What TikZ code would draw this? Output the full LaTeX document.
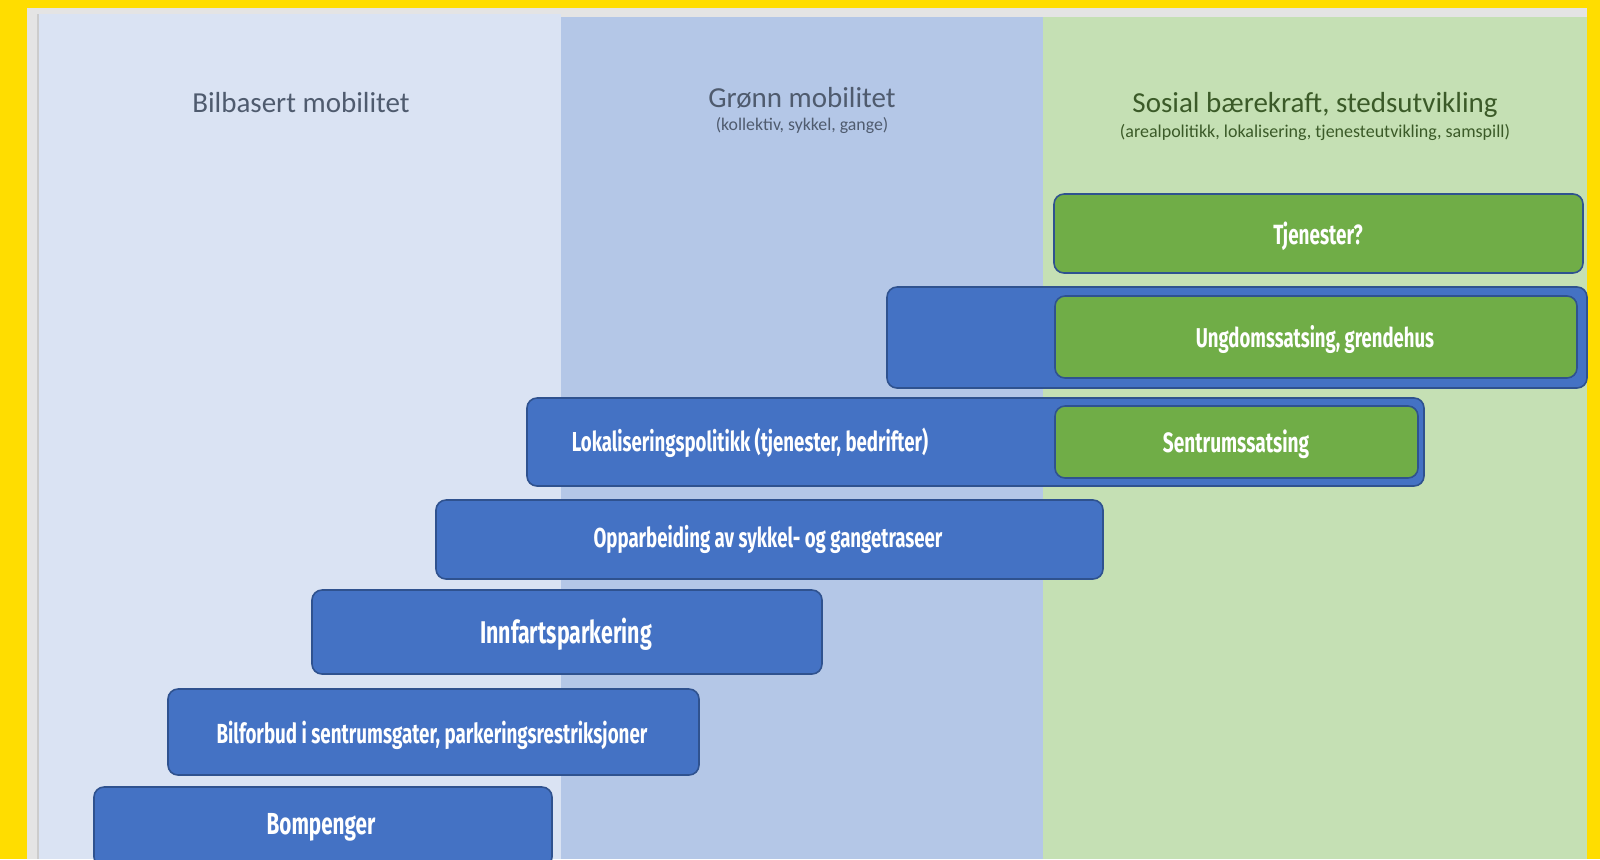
\documentclass[tikz,border=0pt]{standalone}
\usepackage{fontspec}
\newfontfamily\hfont{Carlito}
\newfontfamily\cfont[FakeStretch=0.68]{Fira Sans}
\definecolor{yel}{HTML}{FFDD00}
\definecolor{gband}{HTML}{E4E4E4}
\definecolor{pone}{HTML}{DAE3F3}
\definecolor{ptwo}{HTML}{B4C7E7}
\definecolor{pthree}{HTML}{C5E0B4}
\definecolor{bfill}{HTML}{4472C4}
\definecolor{bline}{HTML}{2F528F}
\definecolor{gfill}{HTML}{70AD47}
\definecolor{htxt}{HTML}{4F5B6E}
\definecolor{gtxt}{HTML}{3B5A28}
\tikzset{
  bluebox/.style={draw=bline, fill=bfill, line width=0.8pt, rounded corners=5pt, inner sep=0pt},
  greenbox/.style={draw=bline, fill=gfill, line width=0.8pt, rounded corners=5pt, inner sep=0pt},
  btxt/.style={text=white, inner sep=0pt},
  head/.style={text=htxt, inner sep=0pt},
}
\newcommand{\boxfnt}[1]{\cfont\bfseries\fontsize{#1}{#1}\selectfont}
\begin{document}
\begin{tikzpicture}[x=0.5pt, y=-0.5pt]
\useasboundingbox (0,0) rectangle (1600,859);
\clip (0,0) rectangle (1600,859);
% background
\fill[yel] (0,0) rectangle (1600,859);
\fill[gband] (27,8) rectangle (1587,859);
\fill[pone] (39,14) rectangle (561,859);
\fill[ptwo] (561,17) rectangle (1043,859);
\fill[pthree] (1043,17) rectangle (1587,859);
\draw[color=black!20, line width=1pt] (38,14) -- (38,859);
% headers
\node[head, font=\hfont\fontsize{14.5}{17}\selectfont] (h1) at (301,103) {Bilbasert mobilitet};
\node[head, font=\hfont\fontsize{14.5}{17}\selectfont] (h2) at (802,98) {Grønn mobilitet};
\node[head, font=\hfont\fontsize{8.9}{10}\selectfont] (h2s) at (802,126) {(kollektiv, sykkel, gange)};
\node[head, text=gtxt, font=\hfont\fontsize{14.5}{17}\selectfont] (h3) at (1315,105) {Sosial bærekraft, stedsutvikling};
\node[head, text=gtxt, font=\hfont\fontsize{9}{10}\selectfont] (h3s) at (1315,132) {(arealpolitikk, lokalisering, tjenesteutvikling, samspill)};
% boxes
\node[greenbox, minimum width=264.5pt, minimum height=39.5pt] (tj) at (1318.5,233.5) {};
\node[btxt, font=\boxfnt{13.9}] (tjt) at (1318,236) {Tjenester?};

\node[bluebox, minimum width=350pt, minimum height=50.5pt] (ungb) at (1237,337.5) {};
\node[greenbox, minimum width=261pt, minimum height=41pt] (ung) at (1316,337) {};
\node[btxt, font=\boxfnt{13.6}] (ungt) at (1315,339) {Ungdomssatsing, grendehus};

\node[bluebox, minimum width=448.5pt, minimum height=44pt] (lok) at (975.5,442) {};
\node[btxt, font=\boxfnt{13.7}] (lokt) at (750,443) {Lokaliseringspolitikk (tjenester, bedrifter)};
\node[greenbox, minimum width=181.5pt, minimum height=36pt] (sen) at (1236.5,442) {};
\node[btxt, font=\boxfnt{14}] (sent) at (1236,444) {Sentrumssatsing};

\node[bluebox, minimum width=333.5pt, minimum height=39.5pt] (opp) at (769.5,539.5) {};
\node[btxt, font=\boxfnt{13.7}] (oppt) at (768,539) {Opparbeiding av sykkel- og gangetraseer};

\node[bluebox, minimum width=255pt, minimum height=42pt] (inn) at (567,632) {};
\node[btxt, font=\boxfnt{15.7}] (innt) at (566,634) {Innfartsparkering};

\node[bluebox, minimum width=265.5pt, minimum height=43pt] (bil) at (433.5,732) {};
\node[btxt, font=\boxfnt{13.8}] (bilt) at (432,735) {Bilforbud i sentrumsgater, parkeringsrestriksjoner};

\node[bluebox, minimum width=229pt, minimum height=40pt] (bom) at (323,827) {};
\node[btxt, font=\boxfnt{15.2}] (bomt) at (321,827) {Bompenger};
\end{tikzpicture}
\end{document}
